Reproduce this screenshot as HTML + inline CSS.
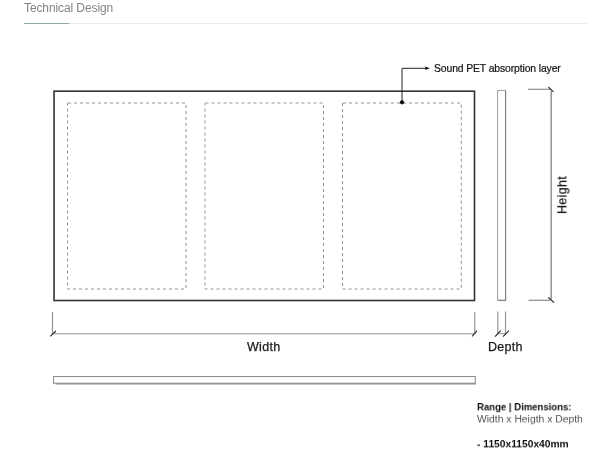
<!DOCTYPE html>
<html><head><meta charset="utf-8">
<style>
html,body{margin:0;padding:0;background:#fff;}
body{width:610px;height:450px;position:relative;overflow:hidden;font-family:"Liberation Sans",sans-serif;}
.t{position:absolute;white-space:nowrap;line-height:1;will-change:transform;}
svg{position:absolute;left:0;top:0;}
</style></head><body>
<div class="t" id="title" style="left:24px;top:2px;font-size:12px;letter-spacing:-0.1px;color:#848484;">Technical Design</div>
<svg width="610" height="450" viewBox="0 0 610 450">
  <line x1="24" y1="23.5" x2="587" y2="23.5" stroke="#ededed" stroke-width="1"/>
  <line x1="24" y1="23.5" x2="69.5" y2="23.5" stroke="#93a8ad" stroke-width="1"/>
  <!-- outer panel -->
  <rect x="54.05" y="91.2" width="420.45" height="209.3" fill="none" stroke="#333" stroke-width="1.6"/>
  <!-- dashed -->
  <g fill="none" stroke="#929292" stroke-width="1" stroke-dasharray="3 3" stroke-dashoffset="-0.5">
    <rect x="67.5" y="103" width="118.5" height="186"/>
    <rect x="205" y="103" width="118.5" height="186"/>
    <rect x="342.5" y="103" width="118.8" height="186"/>
  </g>
  <!-- label arrow -->
  <path d="M402 102.3 V68.3 H426" fill="none" stroke="#222" stroke-width="1"/>
  <path d="M425.3 66.5 L429.8 68.3 L425.3 70.1 Z" fill="#111"/>
  <circle cx="402" cy="102.3" r="2.1" fill="#111"/>
  <!-- side view -->
  <path d="M497.6 300.4 V90.4 H505.6" fill="none" stroke="#9c9c9c" stroke-width="1"/>
  <path d="M505.6 90.4 V300.4 H497.6" fill="none" stroke="#808080" stroke-width="1.2"/>
  <!-- height dim -->
  <path d="M528 89.3 H550.4 M550.4 300.3 H528.5" fill="none" stroke="#777" stroke-width="1.1"/>
  <path d="M551.2 90.5 V299.5" fill="none" stroke="#999" stroke-width="1.6"/>
  <path d="M548.3 87 L553.6 91.8 M548.3 297.5 L554 302.5" stroke="#333" stroke-width="1.1"/>
  <!-- width dim -->
  <path d="M52.5 312 V333.7 H474.8 V312" fill="none" stroke="#939393" stroke-width="1.15"/>
  <path d="M50.2 336.3 L55.9 331 M472.1 336.4 L477 330.7" stroke="#2a2a2a" stroke-width="1.1"/>
  <!-- depth dim -->
  <path d="M497.8 311.5 V333.7 H505.5 V311.5" fill="none" stroke="#939393" stroke-width="1.15"/>
  <path d="M495 336.7 L500.8 330.7 M503 336.7 L509 330.7" stroke="#2a2a2a" stroke-width="1.1"/>
  <!-- top view bar -->
  <path d="M53.5 383.3 V376.55 H475.3 V383.3" fill="none" stroke="#8c8c8c" stroke-width="1.05"/>
  <path d="M53 383.2 H475.8" fill="none" stroke="#8c8c8c" stroke-width="1"/>
  <path d="M55.5 383.9 H475.8" fill="none" stroke="#8c8c8c" stroke-width="1.4"/>
</svg>
<div class="t" id="lbl" style="left:434.4px;top:64px;font-size:10.4px;letter-spacing:-0.12px;color:#111;-webkit-text-stroke:0.2px #111;">Sound PET absorption layer</div>
<div class="t" id="w" style="left:247.4px;top:341.1px;font-size:12.5px;letter-spacing:0.3px;color:#1a1a1a;-webkit-text-stroke:0.25px #1a1a1a;">Width</div>
<div class="t" id="d" style="left:487.5px;top:341.1px;font-size:12.5px;letter-spacing:0.3px;color:#1a1a1a;-webkit-text-stroke:0.25px #1a1a1a;">Depth</div>
<div class="t" id="h" style="left:0;top:0;font-size:12.5px;letter-spacing:0.3px;color:#1a1a1a;-webkit-text-stroke:0.25px #1a1a1a;transform-origin:0 0;transform:translate(566.9px,214px) rotate(-90deg) translate(0,-10.6px);">Height</div>
<div class="t" id="r1" style="left:476.7px;top:402.7px;font-size:10px;font-weight:bold;color:#111;transform-origin:0 0;transform:scale(0.955,0.92);">Range | Dimensions:</div>
<div class="t" id="r2" style="left:476.7px;top:414.9px;font-size:10px;color:#555;transform-origin:0 0;transform:scale(1.035,0.93);">Width x Heigth x Depth</div>
<div class="t" id="r3" style="left:476.7px;top:439.5px;font-size:10px;font-weight:bold;color:#111;transform-origin:0 0;transform:scale(1.024,0.92);">- 1150x1150x40mm</div>
</body></html>
